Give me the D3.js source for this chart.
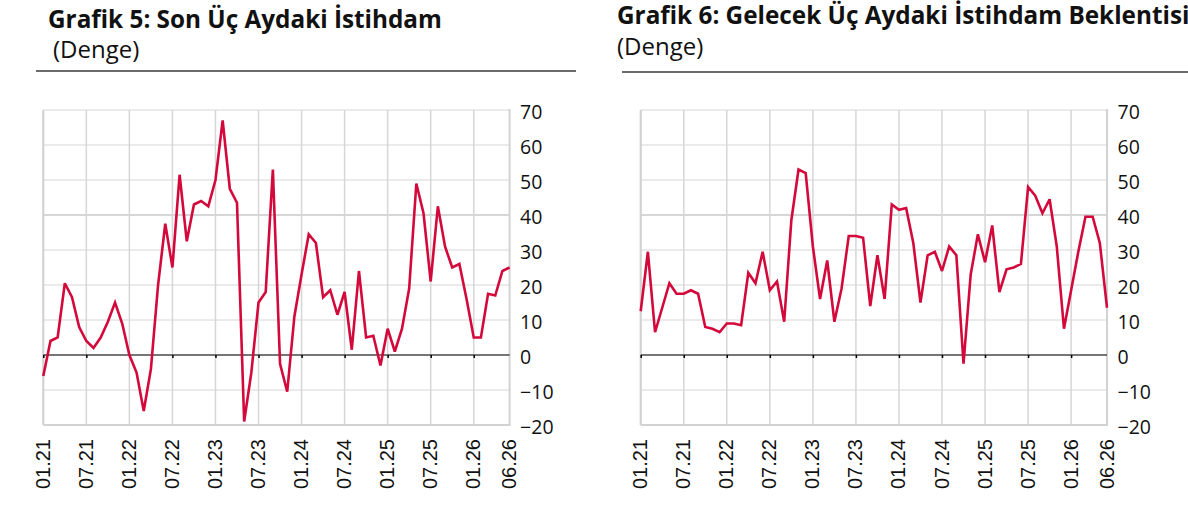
<!DOCTYPE html>
<html><head><meta charset="utf-8">
<script src="https://cdn.jsdelivr.net/npm/d3@7/dist/d3.min.js"></script>
<style>body{margin:0;background:#fff}svg{display:block}</style>
</head><body><svg id="c" width="1188" height="510"></svg>
<script>
// ---- data ----
const months = [];
for (let yy = 21; yy <= 26; yy++) for (let mm = 1; mm <= 12; mm++) {
  if (yy === 26 && mm > 6) break;
  months.push(String(mm).padStart(2, "0") + "." + yy);
}
const tickLabels = ["01.21","07.21","01.22","07.22","01.23","07.23","01.24","07.24","01.25","07.25","01.26","06.26"];
const yTicks = [70, 60, 50, 40, 30, 20, 10, 0, -10, -20];

const sonUcAy = [-6,4,5,20.5,16.5,8,4,2,5,9.5,15,9,0,-5,-16,-4,20,37.5,25,51.5,32.5,43,44,42.5,50,67,47.5,43.5,-19,-5,
  15,18,53,-2.5,-10.5,11,23,34.5,32,16.5,18.5,11.5,18,1.5,24,5,5.5,-3,7.5,1,7.5,19,49,40.5,21,42.5,31,25,26,16,5,5,17.5,17,24,25];
const gelecekUcAy = [12.5,29.5,6.5,13.5,20.5,17.5,17.5,18.5,17.5,8,7.5,6.5,9,9,8.5,23.5,20.5,29.5,18.5,21,9.5,38.5,53,52,31,16,27,9.5,19,34,
  34,33.5,14,28.5,16,43,41.5,42,32,15,28.5,29.5,24,31,28.5,-2.5,23,34.5,26.5,37,18,24.5,25,26,48,45.5,40.5,44.5,31,7.5,18.5,29.5,39.5,39.5,32,13.5];

const titles = ["Grafik 5: Son Üç Aydaki İstihdam", "Grafik 6: Gelecek Üç Aydaki İstihdam Beklentisi"];
const subtitle = "(Denge)";

// ---- drawing ----
const svg = d3.select("#c");
const RED = "#d4093b", GRID = "#d6d6d6", BORDER = "#d2d2d2";

function panel(o) {
  const g = svg.append("g");
  const x = d3.scalePoint().domain(months).range([o.x0, o.x1]);
  const y = d3.scaleLinear().domain([-20, 70]).range([425, 110]);

  g.append("text").attr("x", o.tx).attr("y", o.ty)
    .attr("font-family", "'Open Sans', sans-serif").attr("font-weight", 700)
    .attr("font-size", 24.3).attr("fill", "#111").text(o.title);
  g.append("text").attr("x", o.sx).attr("y", o.sy)
    .attr("font-family", "'Open Sans', sans-serif")
    .attr("font-size", 24).attr("fill", "#111").text(subtitle);
  g.append("line").attr("x1", o.lx0).attr("x2", o.lx1).attr("y1", o.ly).attr("y2", o.ly)
    .attr("stroke", "#3a3a3a").attr("stroke-width", 1.5);

  // horizontal grid
  g.selectAll(".hg").data(yTicks.filter(d => d > -20)).join("line")
    .attr("x1", o.x0).attr("x2", o.x1)
    .attr("y1", d => y(d)).attr("y2", d => y(d))
    .attr("stroke", GRID).attr("stroke-width", d => d === 40 ? 2 : 1);
  // vertical grid
  const vt = tickLabels.slice(0, -1);
  g.selectAll(".vg").data(vt).join("line")
    .attr("x1", d => x(d)).attr("x2", d => x(d))
    .attr("y1", y(70)).attr("y2", y(-20))
    .attr("stroke", GRID).attr("stroke-width", 1.5);
  // borders
  g.append("line").attr("x1", o.x0).attr("x2", o.x0).attr("y1", y(70)).attr("y2", y(-20)).attr("stroke", BORDER).attr("stroke-width", 2);
  g.append("line").attr("x1", o.x1).attr("x2", o.x1).attr("y1", y(70) - 1).attr("y2", y(-20)).attr("stroke", BORDER).attr("stroke-width", 2);
  g.append("line").attr("x1", o.x0).attr("x2", o.x1 + 1).attr("y1", y(-20)).attr("y2", y(-20)).attr("stroke", BORDER).attr("stroke-width", 2);

  // zero axis with ticks
  const ax = d3.axisBottom(x).tickValues(vt).tickSize(3).tickFormat("");
  const axg = g.append("g").attr("transform", `translate(0,${y(0)})`).call(ax);
  axg.select(".domain").attr("stroke", "#000").attr("stroke-width", 1).attr("d", `M${o.x0},0H${o.x1}`);
  axg.selectAll(".tick line").attr("stroke", "#000").attr("stroke-width", 1.5);

  // line
  g.append("path").datum(o.values)
    .attr("fill", "none").attr("stroke", RED).attr("stroke-width", 2.6)
    .attr("stroke-linejoin", "miter").attr("stroke-miterlimit", 3)
    .attr("d", d3.line().x((d, i) => x(months[i])).y(d => y(d)));

  // y labels (right)
  const ya = d3.axisRight(y).tickValues(yTicks).tickSize(0).tickPadding(0).tickFormat(d3.format("d"));
  const yg = g.append("g").attr("transform", `translate(${o.x1 + 10.5},0)`).call(ya);
  yg.select(".domain").remove();
  yg.selectAll("text").attr("font-family", "'Open Sans', sans-serif").attr("font-size", 19.5)
    .attr("fill", "#111").attr("dy", "0.42em").attr("x", 0);

  // x labels (rotated)
  g.selectAll(".xl").data(tickLabels).join("text")
    .attr("transform", d => `translate(${x(d) + 6.5},439) rotate(-90)`)
    .attr("text-anchor", "end")
    .attr("font-family", "'Liberation Sans', Arial, sans-serif").attr("font-size", 20)
    .attr("fill", "#111").text(d => d);
}

panel({x0: 43.3, x1: 509.6, values: sonUcAy, title: titles[0], tx: 48, ty: 28, sx: 53, sy: 58, lx0: 36, lx1: 576, ly: 71});
panel({x0: 640.7, x1: 1107, values: gelecekUcAy, title: titles[1], tx: 617, ty: 24, sx: 617, sy: 55, lx0: 622, lx1: 1188, ly: 72});
</script></body></html>
